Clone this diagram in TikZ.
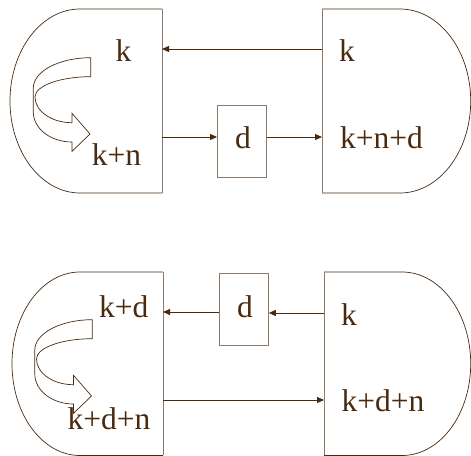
\documentclass[tikz,border=0pt]{standalone}
\usepackage{fontspec}
\setmainfont{Liberation Serif}
\usetikzlibrary{arrows.meta}
\definecolor{dbrown}{HTML}{4A2A0E}
\definecolor{tan}{HTML}{8C7A66}
\tikzset{
  lbl/.style={anchor=base, inner sep=0pt, text=dbrown, font=\fontsize{31.5}{36}\selectfont},
  dbox/.style={draw=tan, line width=0.8pt, minimum width=49pt, minimum height=72pt, inner sep=0pt, anchor=north west},
  dline/.style={draw=dbrown, line width=0.7pt},
  eline/.style={draw=tan, line width=0.9pt},
  arr/.style={draw=dbrown, line width=0.9pt, -{Triangle[length=7pt,width=6pt]}},
  curvarr/.style={draw=dbrown, line width=0.7pt, line join=miter}
}
\begin{document}
\begin{tikzpicture}[x=1pt,y=-1pt]
\useasboundingbox (0,0) rectangle (471,455);
% ---------- top half ----------
% left D
\draw[dline] (162,9) -- (80,9) .. controls (41.3,9) and (10,50.2) .. (10,101)
  .. controls (10,151.8) and (41.3,193) .. (80,193) -- (162,193);
\draw[eline] (162,9) -- (162,193);
% right D
\draw[dline] (322,9) -- (400,9) .. controls (439,9) and (470.7,50.2) .. (470.7,101)
  .. controls (470.7,151.8) and (439,193) .. (400,193) -- (322,193);
\draw[eline] (322,9) -- (322,193);
% curved block arrow
\draw[curvarr] (90.7,57.7) .. controls (59,57.7) and (33.3,71.4) .. (33.3,88) -- (33.3,112)
  .. controls (33.3,128.6) and (50.6,142) .. (72,142) -- (72,151.3) -- (90,134) -- (72,113.3) -- (72,122.7)
  .. controls (51.6,122.7) and (35,111.2) .. (35,97)
  .. controls (35,85.8) and (59.9,76.7) .. (90.7,76.7) -- cycle;
% box
\node[dbox] (d1) at (217,105) {};
\node[lbl] (d1t) at (243,148) {d};
% connection points
\coordinate (tlA) at (162,49);
\coordinate (trA) at (322,49);
\coordinate (tlB) at (162,137);
\coordinate (trB) at (322,137);
\draw[arr] (trA) -- (tlA);
\draw[arr] (tlB) -- (tlB -| d1.west);
\draw[arr] (trB -| d1.east) -- (trB);
% labels
\node[lbl] (t1) at (123.5,61.7) {k};
\node[lbl] (t2) at (116.5,165) {k+n};
\node[lbl] (t3) at (347,61.7) {k};
\node[lbl] (t4) at (381.5,148) {k+n+d};
% ---------- bottom half ----------
\draw[dline] (163,272) -- (80,272) .. controls (42.4,272) and (12,313.1) .. (12,363.7)
  .. controls (12,414.4) and (42.4,455.5) .. (80,455.5) -- (163,455.5);
\draw[eline] (163,272) -- (163,455);
\draw[dline] (324,272) -- (402,272) .. controls (440,272) and (470.7,313.1) .. (470.7,363.7)
  .. controls (470.7,414.4) and (440,455.5) .. (402,455.5) -- (324,455.5);
\draw[eline] (324,272) -- (324,455);
\begin{scope}[shift={(1.5,262)}]
\draw[curvarr] (90.7,57.7) .. controls (59,57.7) and (33.3,71.4) .. (33.3,88) -- (33.3,112)
  .. controls (33.3,128.6) and (50.6,142) .. (72,142) -- (72,151.3) -- (90,134) -- (72,113.3) -- (72,122.7)
  .. controls (51.6,122.7) and (35,111.2) .. (35,97)
  .. controls (35,85.8) and (59.9,76.7) .. (90.7,76.7) -- cycle;
\end{scope}
\node[dbox] (d2) at (219,273) {};
\node[lbl] (d2t) at (245,317) {d};
\coordinate (blA) at (163,312);
\coordinate (brA) at (324,313);
\coordinate (blB) at (163,400);
\coordinate (brB) at (324,400);
\draw[arr] (brA) -- (brA -| d2.east);
\draw[arr] (blA -| d2.west) -- (blA);
\draw[arr] (blB) -- (brB);
\node[lbl] (b1) at (123.7,317.3) {k+d};
\node[lbl] (b2) at (109,429) {k+d+n};
\node[lbl] (b3) at (349,325) {k};
\node[lbl] (b4) at (383,411.7) {k+d+n};
\end{tikzpicture}
\end{document}
